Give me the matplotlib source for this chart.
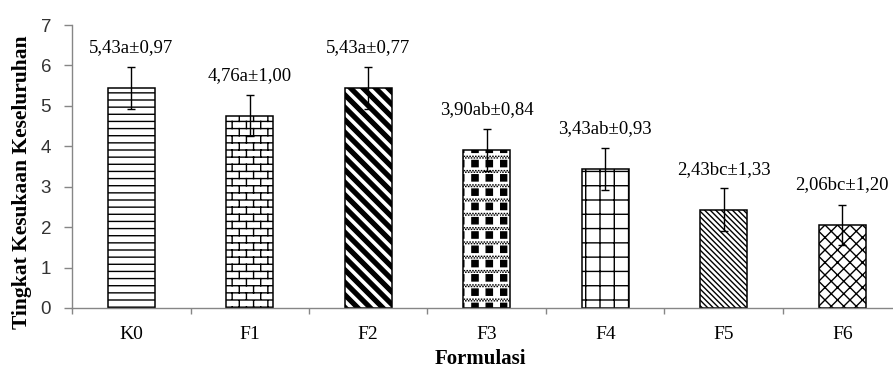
import warnings
import numpy as np
import matplotlib
matplotlib.use('Agg')
import matplotlib.pyplot as plt
from matplotlib import hatch as mhatch
from matplotlib.path import Path
from matplotlib.ticker import FixedLocator

warnings.filterwarnings('ignore')

formulasi = ['K0', 'F1', 'F2', 'F3', 'F4', 'F5', 'F6']
rata_rata = [5.43, 4.76, 5.43, 3.90, 3.43, 2.43, 2.06]
notasi = ['a', 'a', 'a', 'ab', 'ab', 'bc', 'bc']
sd = [0.97, 1.00, 0.77, 0.84, 0.93, 1.33, 1.20]
galat = [0.52, 0.50, 0.52, 0.52, 0.52, 0.53, 0.50]


# --- pola arsiran (satu tile = 1 inci) ---
def garis(segs):
    verts, codes = [], []
    for a, b in segs:
        verts += [a, b]
        codes += [Path.MOVETO, Path.LINETO]
    return Path(verts, codes)


def poligon(polys):
    verts, codes = [], []
    for p in polys:
        verts += list(p) + [p[0]]
        codes += [Path.MOVETO] + [Path.LINETO] * (len(p) - 1) + [Path.CLOSEPOLY]
    return Path(verts, codes)


def miring(c, arah=1):
    # x + y = c (arah 1) atau x - y = c (arah -1)
    if arah == 1:
        return ((c + 1, -1), (c - 2, 2))
    return ((c - 1, -1), (c + 2, 2))


def pita(c, h):
    c1, c2 = c - h * np.sqrt(2), c + h * np.sqrt(2)
    return [(c1 + 1, -1), (c1 - 2, 2), (c2 - 2, 2), (c2 + 1, -1)]


hor = garis([((0, i / 14), (1, i / 14)) for i in range(15)])

bata = [((0, i / 14), (1, i / 14)) for i in range(15)]
for i in range(14):
    for j in range(7):
        x = (j + 0.25 + 0.5 * (i % 2)) / 7
        bata.append(((x, i / 14), (x, (i + 1) / 14)))
bata = garis(bata)

tebal = poligon([pita(k / 8, 0.019) for k in range(-1, 18)])

kotak = []
s = 0.031
for i in range(7):
    for j in range(7):
        cx, cy = (j + 0.25) / 7, (i + 0.55) / 7
        kotak.append([(cx - s, cy - s), (cx + s, cy - s), (cx + s, cy + s), (cx - s, cy + s)])
titik = []
for i in range(8):
    for r, dy in enumerate((-0.008, 0.008)):
        for m in range(35):
            x = (m + 0.5 * r) / 35
            titik.append(((x, i / 7 + dy), (x + 0.002, i / 7 + dy)))
catur = Path.make_compound_path(poligon(kotak), garis(titik))

kisi = garis([((i / 7, 0), (i / 7, 1)) for i in range(8)] +
             [((0, i / 7), (1, i / 7)) for i in range(8)])

rapat = garis([miring(k / 18) for k in range(-1, 38)])

belah = garis([miring(k / 8) for k in range(-1, 18)] +
              [miring(k / 8, -1) for k in range(-9, 10)])


class TileHatch(mhatch.HatchPatternBase):
    tiles = {'h': hor, 'b': bata, 'd': tebal, 'c': catur,
             'g': kisi, 'n': rapat, 'k': belah}

    def __init__(self, hatch, density):
        self.path = next((p for ch, p in self.tiles.items() if ch in hatch), None)
        self.num_vertices = 0 if self.path is None else len(self.path.vertices)

    def set_vertices_and_codes(self, vertices, codes):
        vertices[:] = self.path.vertices
        codes[:] = self.path.codes


mhatch._hatch_types.append(TileHatch)

pola = ['h', 'b', 'd', 'c', 'g', 'n', 'k']
abu = '#868686'
serif = 'Liberation Serif'

fig = plt.figure(figsize=(8.93, 3.73), dpi=100)
ax = fig.add_axes([72 / 893, 65 / 373, 829.5 / 893, 283 / 373])

x = np.arange(len(formulasi))
bars = ax.bar(x, rata_rata, width=0.4, color='white', edgecolor='black',
              linewidth=1.1, zorder=2)
for b, p in zip(bars, pola):
    b.set_hatch(p)

ax.errorbar(x, rata_rata, yerr=galat, fmt='none', ecolor='black',
            elinewidth=1.0, capsize=3, capthick=1.0, zorder=3)

for xi, m, n, e in zip(x, rata_rata, notasi, sd):
    teks = f"{m:.2f}".replace('.', ',') + n + '±' + f"{e:.2f}".replace('.', ',')
    ax.text(xi, m + 1.0, teks, ha='center', va='center', fontsize=13.5,
            family=serif)

ax.set_xlim(-0.5, 6.5)
ax.set_ylim(0, 7)
ax.set_yticks(range(8))
ax.set_xticks(x)
ax.set_xticklabels(formulasi, family=serif, fontsize=14)
ax.xaxis.set_minor_locator(FixedLocator(np.arange(-0.5, 7, 1)))
ax.tick_params(axis='x', which='major', length=0, pad=13)
ax.tick_params(axis='x', which='minor', length=4, color=abu, width=1.0)
ax.tick_params(axis='y', length=6, color=abu, width=1.0, pad=9,
               labelsize=13.5, labelcolor='#333333')
for lbl in ax.get_yticklabels():
    lbl.set_family('Liberation Sans')

for side in ('top', 'right'):
    ax.spines[side].set_visible(False)
for side in ('left', 'bottom'):
    ax.spines[side].set_color(abu)
    ax.spines[side].set_linewidth(1.0)

ax.set_xlabel('Formulasi', family=serif, fontsize=15, fontweight='bold',
              va='baseline')
ax.xaxis.set_label_coords(0.492, -0.199)
ax.set_ylabel('Tingkat Kesukaan Keseluruhan', family=serif, fontsize=15.5,
              fontweight='bold', va='baseline')
ax.yaxis.set_label_coords(-0.0546, 0.445)

fig.savefig('out.png', dpi=100)
